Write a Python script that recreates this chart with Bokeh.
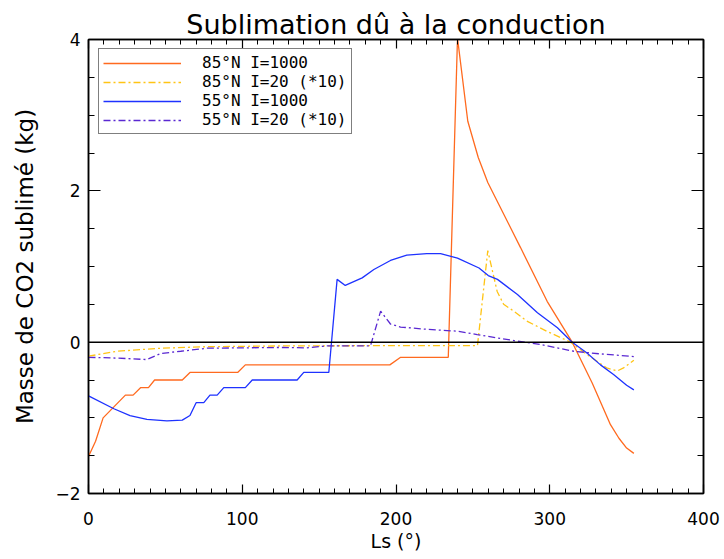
from bokeh.plotting import figure
from bokeh.models import (Legend, LegendItem, LinearAxis, SingleIntervalTicker, Span)
from bokeh.embed import file_html
from bokeh.resources import INLINE

# 85°N I=1000
ls_85_1000 = [0, 4.6, 9.5, 24, 29, 34, 39, 43, 61, 66, 97, 102, 196, 203, 234, 240,
              246.7, 253.5, 259.7, 266.9, 281, 298.3, 314.6, 327.6, 339.5, 345, 350, 354.7]
m_85_1000 = [-1.51, -1.31, -1.0, -0.70, -0.70, -0.60, -0.60, -0.50, -0.50, -0.40, -0.40, -0.30,
             -0.30, -0.20, -0.20, 4.02, 2.92, 2.44, 2.11, 1.82, 1.25, 0.54, 0.0, -0.54, -1.09,
             -1.27, -1.40, -1.47]

# 85°N I=20 (*10)
ls_85_20 = [0, 18.7, 47, 77, 125, 203, 253, 259.7, 265.8, 270, 276.6, 285, 298, 313.5, 324,
            337, 344, 348, 354.7]
m_85_20 = [-0.185, -0.12, -0.08, -0.06, -0.05, -0.045, -0.045, 1.21, 0.67, 0.50, 0.41, 0.28,
           0.145, 0.0, -0.16, -0.34, -0.38, -0.34, -0.24]

# 55°N I=1000
ls_55_1000 = [0, 16.5, 27, 38, 51, 61, 66, 70, 75, 79, 83.7, 88, 102, 106.5, 135.7, 140, 156.3,
              161.7, 167, 178, 185.6, 196.4, 207, 220, 229, 240, 254, 260, 266, 279, 292, 305,
              314.6, 324, 333, 341.7, 350, 354.7]
m_55_1000 = [-0.71, -0.88, -0.97, -1.02, -1.04, -1.03, -0.97, -0.80, -0.80, -0.70, -0.70, -0.60,
             -0.60, -0.50, -0.50, -0.40, -0.40, 0.83, 0.75, 0.85, 0.96, 1.08, 1.15, 1.17, 1.17,
             1.11, 0.98, 0.88, 0.83, 0.63, 0.39, 0.19, 0.0, -0.14, -0.30, -0.43, -0.57, -0.63]

# 55°N I=20 (*10)
ls_55_20 = [0, 18, 38, 47, 60, 77, 125, 142, 155, 183.4, 190, 196.4, 203, 220, 240, 252.8, 279,
            294, 315.6, 333, 354.7]
m_55_20 = [-0.20, -0.21, -0.23, -0.15, -0.12, -0.08, -0.07, -0.075, -0.05, -0.05, 0.41, 0.24,
           0.20, 0.17, 0.145, 0.10, 0.013, -0.03, -0.12, -0.155, -0.19]

x_ticks = [0, 100, 200, 300, 400]
y_ticks = [-2, 0, 2, 4]
y_tick_labels = ["\u22122", "0", "2", "4"]

labels = ["85°N I=1000", "85°N I=20 (*10)", "55°N I=1000", "55°N I=20 (*10)"]
colors = ["#FF6A1F", "#FFC414", "#1E32FF", "#5A28D2"]
dashes = ["solid", "7 3 2 3", "solid", "7 3 2 3"]

FONT = "DejaVu Sans"
LEGEND_FONT = "DejaVu Sans Mono"

p = figure(width=724, height=559, x_range=(0, 400), y_range=(-2, 4),
           output_backend="svg", toolbar_location=None,
           min_border_left=88, min_border_right=21, min_border_top=39, min_border_bottom=66,
           x_axis_label="Ls (°)", y_axis_label="Masse de CO2 sublimé (kg)")

p.title.text = "Sublimation dû à la conduction"
p.title.align = "center"
p.title.text_font = FONT
p.title.text_font_size = "27px"
p.title.text_font_style = "normal"
p.title.text_color = "black"
p.title.offset = 0
p.title.standoff = 0

p.xgrid.visible = False
p.ygrid.visible = False
p.outline_line_color = "black"
p.outline_line_width = 1.5
p.background_fill_color = "white"
p.border_fill_color = "white"


def style_axis(ax, ticker, tick_in, minor_in):
    ax.ticker = ticker
    ax.major_tick_in = tick_in
    ax.major_tick_out = 0
    ax.minor_tick_in = minor_in
    ax.minor_tick_out = 0
    ax.axis_line_color = "black"
    ax.axis_line_width = 1.5
    ax.major_tick_line_color = "black"
    ax.minor_tick_line_color = "black"
    ax.major_tick_line_width = 1.2
    ax.minor_tick_line_width = 1.0
    ax.major_label_text_font = FONT
    ax.major_label_text_font_size = "17px"
    ax.major_label_text_color = "black"
    ax.axis_label_text_font = FONT
    ax.axis_label_text_font_style = "normal"
    ax.axis_label_text_color = "black"


style_axis(p.xaxis[0], SingleIntervalTicker(interval=100, num_minor_ticks=10), 9, 5)
style_axis(p.yaxis[0], SingleIntervalTicker(interval=2, num_minor_ticks=4), 12, 6)
p.xaxis[0].axis_label_text_font_size = "19px"
p.yaxis[0].axis_label_text_font_size = "23px"
p.xaxis[0].major_label_standoff = 18
p.xaxis[0].axis_label_standoff = 2
p.yaxis[0].major_label_standoff = 8
p.yaxis[0].axis_label_standoff = 14
p.yaxis[0].major_label_overrides = {t: s for t, s in zip(y_ticks, y_tick_labels)}

top_ax = LinearAxis()
right_ax = LinearAxis()
style_axis(top_ax, SingleIntervalTicker(interval=100, num_minor_ticks=10), 9, 5)
style_axis(right_ax, SingleIntervalTicker(interval=2, num_minor_ticks=4), 12, 6)
top_ax.major_label_overrides = {t: "" for t in x_ticks}
right_ax.major_label_overrides = {t: "" for t in y_ticks}
top_ax.major_label_standoff = 0
right_ax.major_label_standoff = 0
top_ax.major_label_text_font_size = "2px"
right_ax.major_label_text_font_size = "2px"
p.add_layout(top_ax, "above")
p.add_layout(right_ax, "right")

zero = Span(location=0, dimension="width", line_color="black", line_width=1.5)
p.add_layout(zero)

series = [(ls_85_1000, m_85_1000), (ls_85_20, m_85_20), (ls_55_1000, m_55_1000), (ls_55_20, m_55_20)]
items = []
for (xs, ys), lab, col, dash in zip(series, labels, colors, dashes):
    r = p.line(xs, ys, line_color=col, line_width=1.3, line_dash=dash)
    items.append(LegendItem(label=lab, renderers=[r]))

legend = Legend(items=items, location=(10, 359), border_line_color="black", border_line_width=1.2,
                label_text_font=LEGEND_FONT, label_text_font_size="16px", label_text_color="black",
                glyph_width=78, glyph_height=14, label_height=14, label_standoff=21,
                padding=4, spacing=0, margin=0, background_fill_alpha=1)
p.add_layout(legend)

open("out.html", "w").write(file_html(p, INLINE))
